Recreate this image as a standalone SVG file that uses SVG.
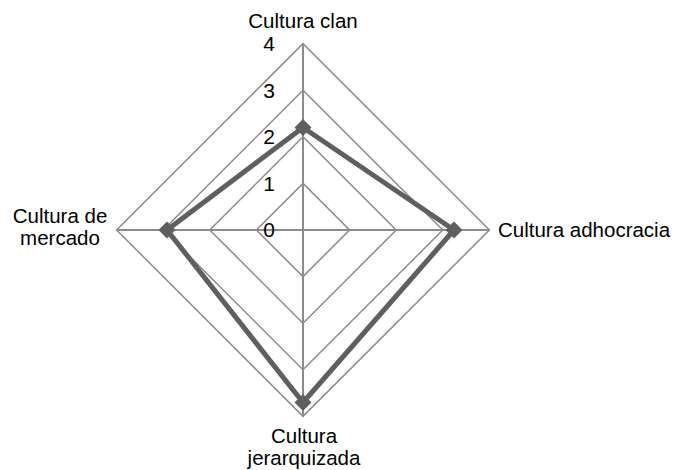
<svg xmlns="http://www.w3.org/2000/svg" width="678" height="470" viewBox="0 0 678 470">
<style>
.grid{fill:none;stroke:#8c8c8c;stroke-width:1.5}
.axis{stroke:#8c8c8c;stroke-width:2}
.lbl{font-family:"Liberation Sans",Arial,sans-serif;font-size:20.5px;fill:#000}
.tick{font-family:"Liberation Sans",Arial,sans-serif;font-size:21px;fill:#000}
.series{fill:none;stroke:#5f5f5f;stroke-width:5;stroke-linejoin:round}
.mk{fill:#5f5f5f}
</style>
<rect width="678" height="470" fill="#fff"/>
<g id="grid">
<polygon class="grid" points="303,183.4 349.6,230 303,276.6 256.4,230"/>
<polygon class="grid" points="303,136.8 396.2,230 303,323.2 209.8,230"/>
<polygon class="grid" points="303,90.2 442.8,230 303,369.8 163.2,230"/>
<polygon class="grid" points="303,43.6 489.4,230 303,416.4 116.6,230"/>
<line class="axis" x1="303" y1="43.6" x2="303" y2="416.4"/>
<line class="axis" x1="116.6" y1="230" x2="489.4" y2="230"/>
</g>
<g id="ticks">
<text class="tick" x="269" y="51" text-anchor="middle">4</text>
<text class="tick" x="269" y="98" text-anchor="middle">3</text>
<text class="tick" x="269" y="144" text-anchor="middle">2</text>
<text class="tick" x="269" y="191" text-anchor="middle">1</text>
<text class="tick" x="269" y="237" text-anchor="middle">0</text>
</g>
<g id="connectors">
<polygon class="series" points="303,127.5 454,230 303,402.5 167,230"/>
</g>
<g id="node-clan">
<rect class="mk" x="-6" y="-6" width="12" height="12" transform="translate(303,127.5) rotate(45)"/>
<text class="lbl" x="303" y="28" text-anchor="middle">Cultura clan</text>
</g>
<g id="node-adhocracia">
<rect class="mk" x="-6" y="-6" width="12" height="12" transform="translate(454,230) rotate(45)"/>
<text class="lbl" x="498" y="237">Cultura adhocracia</text>
</g>
<g id="node-jerarquizada">
<rect class="mk" x="-6" y="-6" width="12" height="12" transform="translate(303,402.5) rotate(45)"/>
<text class="lbl" x="304" y="443" text-anchor="middle">Cultura</text>
<text class="lbl" x="304" y="465" text-anchor="middle">jerarquizada</text>
</g>
<g id="node-mercado">
<rect class="mk" x="-6" y="-6" width="12" height="12" transform="translate(167,230) rotate(45)"/>
<text class="lbl" x="60" y="223" text-anchor="middle">Cultura de</text>
<text class="lbl" x="60" y="245" text-anchor="middle">mercado</text>
</g>
</svg>
